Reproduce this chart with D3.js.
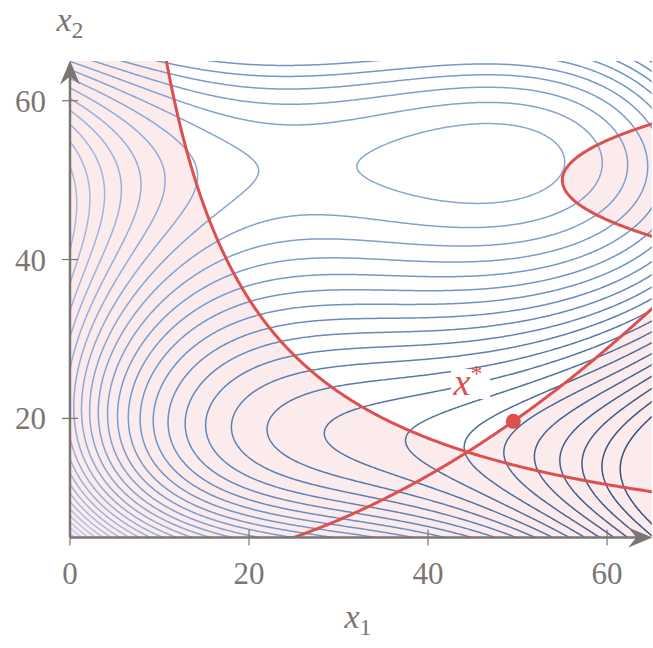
<!DOCTYPE html>
<html><head><meta charset="utf-8">
<script src="https://cdn.jsdelivr.net/npm/d3@7"></script>
<style>body{margin:0;background:#fff}svg{display:block}</style>
</head><body>
<script>
// Barnes function coefficients a1..a20
const coeffs = [75.1963666677, -3.8112755343, 0.1269366345, -2.0567665e-3, 1.0345e-5, -6.8306567613,
  0.0302344793, -1.2813448e-3, 3.52559e-5, -2.266e-7, 0.2564581253, -3.460403e-3, 1.35139e-5,
  -28.1064434908, -5.2375e-6, -6.3e-8, 7e-10, 3.405462e-4, -1.6638e-6, -2.8673112392];
const levels = [-45, -42.5, -40, -37.5, -35, -32.5, -30, -27.5, -25, -22.5, -20, -17.5, -15, -12.5, -10,
  -7.5, -5, -2.5, 0, 2.5, 5, 7.5, 10, 12.5, 15, 17.5, 20, 22.5, 25, 27.5, 30, 32.5, 35, 37.5, 40, 42.5, 45];
const xDomain = [0, 65];
const yDomain = [5, 65];
const xTicks = [0, 20, 40, 60];
const yTicks = [20, 40, 60];
const optimum = [49.5263, 19.6228];

const W = 653, H = 648;
const x = d3.scaleLinear().domain(xDomain).range([70, 651.8]);
const y = d3.scaleLinear().domain(yDomain).range([537.5, 61]);

function barnes(x1, x2) {
  const a = coeffs;
  const x12 = x1*x1, x13 = x12*x1, x14 = x13*x1;
  const x22 = x2*x2, x23 = x22*x2, x24 = x23*x2;
  return a[0] + a[1]*x1 + a[2]*x12 + a[3]*x13 + a[4]*x14 + a[5]*x2 + a[6]*x1*x2 + a[7]*x12*x2
    + a[8]*x13*x2 + a[9]*x14*x2 + a[10]*x22 + a[11]*x23 + a[12]*x24 + a[13]/(x2+1)
    + a[14]*x12*x22 + a[15]*x13*x22 + a[16]*x13*x23 + a[17]*x1*x22 + a[18]*x1*x23
    + a[19]*Math.exp(0.0005*x1*x2);
}
const g1 = (x1, x2) => 1 - x1*x2/700;
const g2 = (x1, x2) => x1*x1/625 - x2/5;
const g3 = (x1, x2) => (x1/500 - 0.11) - (x2/50 - 1)**2;

// sampling grid (slightly larger than the plot, clipped)
const step = 0.2, gx0 = -1, gy0 = 4;
const nx = Math.round((66 - gx0)/step) + 1, ny = Math.round((66 - gy0)/step) + 1;
function sample(fn) {
  const v = new Float64Array(nx*ny);
  for (let j = 0; j < ny; j++) for (let i = 0; i < nx; i++) v[j*nx+i] = fn(gx0 + i*step, gy0 + j*step);
  return v;
}
const proj = d3.geoTransform({point: function(cx, cy) {
  this.stream.point(x(gx0 + (cx - 0.5)*step), y(gy0 + (cy - 0.5)*step));
}});
const path = d3.geoPath(proj);
const contours = d3.contours().size([nx, ny]);

const svg = d3.select("body").append("svg").attr("width", W).attr("height", H);
svg.append("defs").append("clipPath").attr("id", "plot").append("rect")
  .attr("x", x(0)).attr("y", y(65)).attr("width", x(65) - x(0)).attr("height", y(5) - y(65));

const plot = svg.append("g").attr("clip-path", "url(#plot)");

// infeasible region (union)
const gmax = sample((a, b) => Math.max(g1(a, b), g2(a, b), g3(a, b)));
plot.append("path").datum(contours.thresholds([0])(gmax)[0])
  .attr("d", path).attr("fill", "#fcebed").attr("stroke", "none");

// objective contours
const fv = sample(barnes);
const color = d3.scaleLinear().domain([-45, -10, 45]).range(["#37507a", "#6c93c6", "#d4d4f2"]);
plot.append("g").selectAll("path").data(contours.thresholds(levels)(fv)).join("path")
  .attr("d", path).attr("fill", "none").attr("stroke", d => color(d.value)).attr("stroke-width", 1.5);

// constraint boundaries
[g1, g2, g3].forEach(g => {
  plot.append("path").datum(contours.thresholds([0])(sample(g))[0])
    .attr("d", path).attr("fill", "none").attr("stroke", "#dc5050").attr("stroke-width", 3);
});

// axes
const axisColor = "#7b7573";
const ax = svg.append("g");
ax.append("line").attr("x1", x(0)).attr("x2", x(65) - 6).attr("y1", y(5)).attr("y2", y(5))
  .attr("stroke", axisColor).attr("stroke-width", 2.5);
ax.append("line").attr("x1", x(0)).attr("x2", x(0)).attr("y1", y(5)).attr("y2", y(65) + 6)
  .attr("stroke", axisColor).attr("stroke-width", 2.5);
const tx = x(65) + 0.5, ty = y(5);
ax.append("path").attr("d", `M${tx},${ty} L${tx-24},${ty-10} L${tx-16},${ty} L${tx-24},${ty+10} Z`).attr("fill", axisColor);
const ux = x(0), uy = y(65) - 0.5;
ax.append("path").attr("d", `M${ux},${uy} L${ux-10},${uy+24} L${ux},${uy+16} L${ux+10},${uy+24} Z`).attr("fill", axisColor);

const font = "'Liberation Serif', 'DejaVu Serif', serif";
xTicks.forEach(t => {
  ax.append("line").attr("x1", x(t)).attr("x2", x(t)).attr("y1", t === 0 ? y(5) : y(5) - 8).attr("y2", y(5) + 8)
    .attr("stroke", axisColor).attr("stroke-width", 1.2);
  ax.append("text").attr("x", x(t)).attr("y", y(5) + 46).attr("text-anchor", "middle")
    .attr("font-family", font).attr("font-size", 31).attr("fill", axisColor).text(t);
});
yTicks.forEach(t => {
  ax.append("line").attr("x1", x(0) - 8).attr("x2", x(0) + 8).attr("y1", y(t)).attr("y2", y(t))
    .attr("stroke", axisColor).attr("stroke-width", 1.2);
  ax.append("text").attr("x", x(0) - 24).attr("y", y(t) + 11).attr("text-anchor", "end")
    .attr("font-family", font).attr("font-size", 31).attr("fill", axisColor).text(t);
});

function mathLabel(g, px, py, sub, col, size) {
  const t = g.append("text").attr("x", px).attr("y", py).attr("font-family", font)
    .attr("font-size", size).attr("fill", col).attr("text-anchor", "middle");
  t.append("tspan").attr("font-style", "italic").text("x");
  t.append("tspan").attr("font-size", size*0.7).attr("dy", size*0.22).text(sub);
  return t;
}
mathLabel(svg, 70, 31, "2", axisColor, 34);
mathLabel(svg, 358, 628, "1", axisColor, 34);

// optimum
svg.append("circle").attr("cx", x(optimum[0])).attr("cy", y(optimum[1])).attr("r", 7.5).attr("fill", "#dc5050");
svg.append("rect").attr("x", 451).attr("y", 369).attr("width", 39).attr("height", 30).attr("fill", "#fff");
const lab = svg.append("text").attr("x", 468).attr("y", 395).attr("font-family", font)
  .attr("font-size", 38).attr("fill", "#dc5050").attr("text-anchor", "middle");
lab.append("tspan").attr("font-style", "italic").text("x");
lab.append("tspan").attr("font-size", 24).attr("dy", -14).text("*");
</script>
</body></html>
